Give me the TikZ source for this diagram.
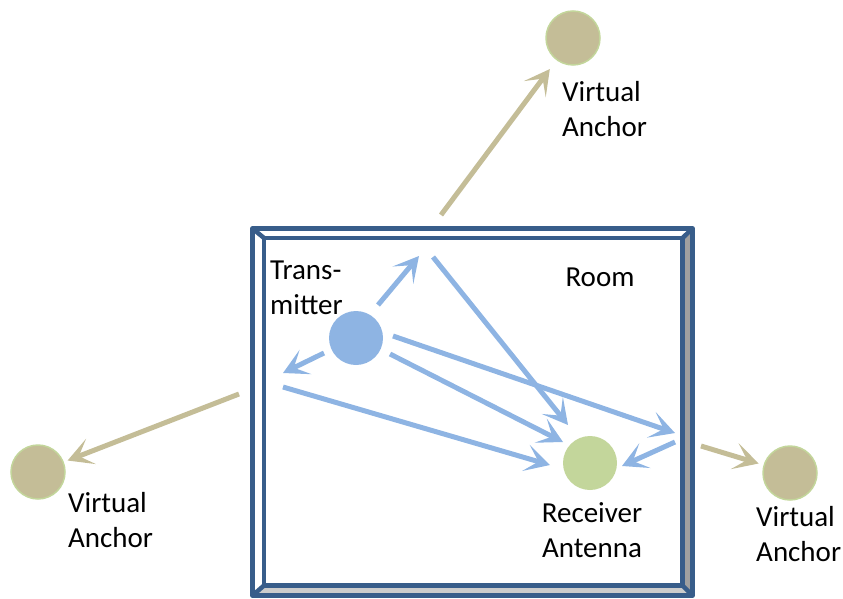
\documentclass[tikz,border=0pt]{standalone}
\usepackage{fontspec}
\setmainfont{Carlito}
\usetikzlibrary{arrows.meta}
\definecolor{frameblue}{RGB}{56,93,138}
\definecolor{tanc}{RGB}{196,189,151}
\definecolor{lgreen}{RGB}{195,214,155}
\definecolor{lblue}{RGB}{142,180,227}
\definecolor{bevelgray}{RGB}{160,160,160}
\definecolor{bevellight}{RGB}{204,204,204}
\begin{document}
\begin{tikzpicture}[x=1pt,y=-1pt,
  lbl/.style={font=\fontsize{29}{35}\selectfont, inner sep=0pt},
  anchorpt/.style={circle, fill=tanc, draw=lgreen, line width=1.5pt, minimum size=54pt, inner sep=0pt},
  tanarrow/.style={draw=tanc, line width=5pt, -{Stealth[length=25pt,width=27pt,inset=13pt]}},
  bluearrow/.style={draw=lblue, line width=5pt, -{Stealth[length=25pt,width=27pt,inset=13pt]}},
  frameline/.style={draw=frameblue, line width=4.5pt, line join=round}]
\useasboundingbox (0,0) rectangle (843,599);

% room frame
\coordinate (o1) at (252.5,228.5);
\coordinate (o2) at (692.5,228.5);
\coordinate (o3) at (692.5,595.5);
\coordinate (o4) at (252.5,595.5);
\coordinate (i1) at (264,238);
\coordinate (i2) at (682.5,238);
\coordinate (i3) at (682.5,585.5);
\coordinate (i4) at (264,585.5);
\fill[bevelgray] (o2) -- (o3) -- (i3) -- (i2) -- cycle;
\fill[bevellight] (o4) -- (o3) -- (i3) -- (i4) -- cycle;
\draw[frameline] (o1) -- (o2) -- (o3) -- (o4) -- cycle;
\draw[frameline] (i1) -- (i2) -- (i3) -- (i4) -- cycle;
\draw[frameline] (o1) -- (i1) (o2) -- (i2) (o3) -- (i3) (o4) -- (i4);
\node[lbl, anchor=base] (room) at (600,286) {Room};

% anchors
\node[anchorpt] (vatop) at (573,38) {};
\node[anchorpt] (valeft) at (38,472) {};
\node[anchorpt] (varight) at (790,473) {};
\node[lbl, anchor=base west, align=left] (latop) at (562,136) {Virtual\\Anchor};
\node[lbl, anchor=base west, align=left] (laleft) at (68,547) {Virtual\\Anchor};
\node[lbl, anchor=base west, align=left] (laright) at (756,561) {Virtual\\Anchor};

% transmitter and receiver
\node[circle, fill=lblue, minimum size=54pt, inner sep=0pt] (tx) at (356,338) {};
\node[circle, fill=lgreen, minimum size=54pt, inner sep=0pt] (rx) at (590,463) {};
\node[lbl, anchor=base west, align=left] (ltx) at (270,314) {Trans-\\mitter};
\node[lbl, anchor=base, align=center] (lrx) at (592,557) {Receiver\\Antenna};

% virtual anchor arrows
\coordinate (tt) at (441,215);
\coordinate (tl) at (239,394);
\coordinate (tr) at (701,446);
\draw[tanarrow, shorten >=11pt] (tt) -- (vatop);
\draw[tanarrow, shorten >=4pt] (tl) -- (valeft);
\draw[tanarrow, shorten >=5pt] (tr) -- (varight);

% multipath arrows
\coordinate (b1s) at (378,305); \coordinate (b1e) at (419,256);
\coordinate (b2s) at (433,257); \coordinate (b2e) at (568,425);
\coordinate (b3s) at (324,353); \coordinate (b3e) at (283,373);
\coordinate (b4s) at (283,387); \coordinate (b4e) at (550,465);
\coordinate (b5s) at (390,354); \coordinate (b5e) at (563,442);
\coordinate (b6s) at (393,336); \coordinate (b6e) at (675,433);
\coordinate (b7s) at (675,442); \coordinate (b7e) at (622,466);
\draw[bluearrow] (b1s) -- (b1e);
\draw[bluearrow] (b2s) -- (b2e);
\draw[bluearrow] (b3s) -- (b3e);
\draw[bluearrow] (b4s) -- (b4e);
\draw[bluearrow] (b5s) -- (b5e);
\draw[bluearrow] (b6s) -- (b6e);
\draw[bluearrow] (b7s) -- (b7e);
\end{tikzpicture}
\end{document}
